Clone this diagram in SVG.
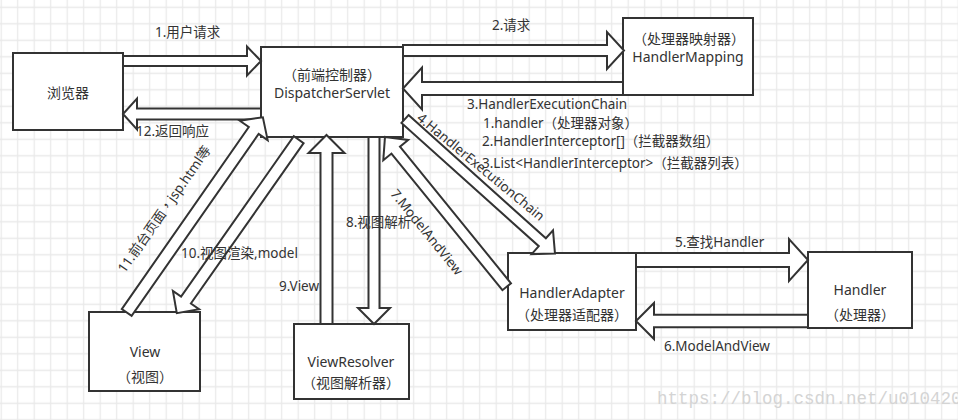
<svg xmlns="http://www.w3.org/2000/svg" width="958" height="420" viewBox="0 0 958 420">
<style>
.box{fill:#fff;stroke:#333;stroke-width:2}
.arr{fill:#fff;stroke:#333;stroke-width:2;stroke-linejoin:miter}
text{font-family:"Noto Sans","Noto Sans CJK SC",sans-serif;font-size:14px;fill:#333}
.l{font-size:13.5px}
.p{font-family:"Noto Sans CJK TC",sans-serif}
.c{text-anchor:middle}
.wm{font-family:"Liberation Mono",monospace;font-size:17.5px;fill:#d4d4d4}
</style>
<defs>
<pattern id="grid" x="-7.05" y="-0.95" width="16.5" height="16.5" patternUnits="userSpaceOnUse">
<path d="M8.25 0V16.5M0 8.25H16.5" stroke="#e9e9e9" stroke-width="1.3" fill="none"/>
</pattern>
</defs>
<rect width="958" height="420" fill="#fff"/>
<rect width="958" height="420" fill="url(#grid)"/>
<text class="wm" x="657" y="404">https://blog.csdn.net/u010420</text>

<g id="browser"><rect class="box" x="13" y="53" width="110" height="77"/><text class="c" x="68" y="98">浏览器</text></g>
<g id="dispatcher"><rect class="box" x="261" y="47" width="142" height="90"/><text class="c" x="332" y="80"><tspan class="p">（</tspan>前端控制器<tspan class="p">）</tspan></text><text class="c" x="332" y="98">DispatcherServlet</text></g>
<g id="handlerMapping"><rect class="box" x="623" y="18" width="130" height="77"/><text class="c" x="689" y="44"><tspan class="p">（</tspan>处理器映射器<tspan class="p">）</tspan></text><text class="c" x="688" y="62">HandlerMapping</text></g>
<g id="handlerAdapter"><rect class="box" x="508" y="253" width="128" height="77"/><text class="c" x="572" y="298">HandlerAdapter</text><text class="c" x="572" y="320"><tspan class="p">（</tspan>处理器适配器<tspan class="p">）</tspan></text></g>
<g id="handler"><rect class="box" x="808" y="252" width="104" height="76"/><text class="c" x="860" y="295">Handler</text><text class="c" x="860" y="320"><tspan class="p">（</tspan>处理器<tspan class="p">）</tspan></text></g>
<g id="view"><rect class="box" x="89" y="312" width="111" height="79"/><text class="c" x="145" y="357">View</text><text class="c" x="145" y="382"><tspan class="p">（</tspan>视图<tspan class="p">）</tspan></text></g>
<g id="viewResolver"><rect class="box" x="294" y="324" width="115" height="75"/><text class="c" x="351" y="367">ViewResolver</text><text class="c" x="351" y="388"><tspan class="p">（</tspan>视图解析器<tspan class="p">）</tspan></text></g>

<g id="connectors">
<polygon class="arr" transform="translate(123,61)" points="0,-5 124,-5 124,-14.5 138,0 124,14.5 124,5 0,5"/>
<polygon class="arr" transform="translate(261,114) rotate(180)" points="0,-5.5 124,-5.5 124,-15.5 138,0 124,15.5 124,5.5 0,5.5"/>
<polygon class="arr" transform="translate(403,50.5)" points="0,-5.5 204,-5.5 204,-18.5 221,0 204,18.5 204,5.5 0,5.5"/>
<polygon class="arr" transform="translate(623,88.5) rotate(180)" points="0,-6.5 201,-6.5 201,-21 220,0 201,21 201,6.5 0,6.5"/>
<polygon class="arr" transform="translate(636,260)" points="0,-7 153,-7 153,-21 172,0 153,21 153,7 0,7"/>
<polygon class="arr" transform="translate(808,321) rotate(180)" points="0,-6.3 154,-6.3 154,-18 172,0 154,18 154,6.3 0,6.3"/>
<polygon class="arr" transform="translate(326.5,324) rotate(-90)" points="0,-6 171,-6 171,-18 189,0 171,18 171,6 0,6"/>
<polygon class="arr" transform="translate(374,137) rotate(90)" points="0,-5.5 171,-5.5 171,-16 187,0 171,16 171,5.5 0,5.5"/>
<polygon class="arr" transform="translate(126.7,312.5) rotate(-55.1)" points="0,-6 222,-6 222,-17 238,0 222,17 222,6 0,6"/>
<polygon class="arr" transform="translate(298.7,139.7) rotate(125.1)" points="0,-6 196,-6 196,-16 212,0 196,16 196,6 0,6"/>
<polygon class="arr" transform="translate(405,119) rotate(41.9)" points="0,-5.3 184.5,-5.3 184.5,-16 201.5,0 184.5,16 184.5,5.3 0,5.3"/>
<polygon class="arr" transform="translate(506.7,286.7) rotate(-129.1)" points="0,-5.5 176,-5.5 176,-16 193,0 176,16 176,5.5 0,5.5"/>
</g>

<g id="labels">
<text class="l" x="155" y="37">1.用户请求</text>
<text class="l" x="136" y="136">12.返回响应</text>
<text class="l" x="492" y="30">2.请求</text>
<text class="l" x="467" y="109">3.HandlerExecutionChain</text>
<text class="l" x="483" y="127.5">1.handler<tspan class="p">（</tspan>处理器对象<tspan class="p">）</tspan></text>
<text class="l" x="482" y="146">2.HandlerInterceptor[]<tspan class="p">（</tspan>拦截器数组<tspan class="p">）</tspan></text>
<text class="l" x="482" y="167.7">3.List&lt;HandlerInterceptor&gt;<tspan class="p">（</tspan>拦截器列表<tspan class="p">）</tspan></text>
<text class="l" x="675" y="247">5.查找Handler</text>
<text class="l" x="664" y="351">6.ModelAndView</text>
<text class="l" x="346" y="227">8.视图解析</text>
<text class="l" x="279" y="291">9.View</text>
<text class="l" x="181" y="258">10.视图渲染,model</text>
<text class="l c" transform="translate(481,166.7) rotate(39.5)" y="5">4.HandlerExecutionChain</text>
<text class="l c" transform="translate(427,232) rotate(51)" y="5">7.ModelAndView</text>
<text class="l c" transform="translate(164,209) rotate(-55)" y="5">11.前台页面<tspan class="p">，</tspan>jsp.html等</text>
</g>
</svg>
